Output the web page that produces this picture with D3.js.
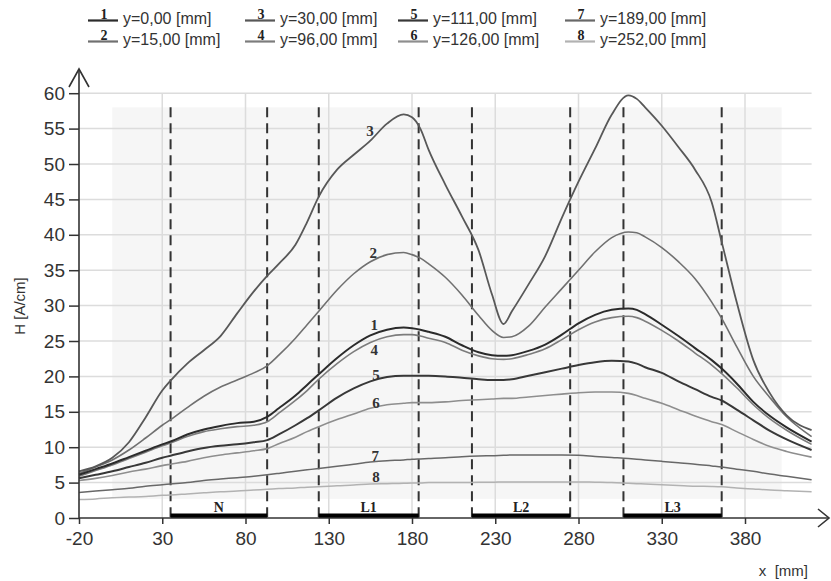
<!DOCTYPE html>
<html>
<head>
<meta charset="utf-8">
<script src="https://cdn.jsdelivr.net/npm/d3@7"></script>
<style>
  html, body { margin: 0; padding: 0; background: #fff; }
  svg { display: block; }
</style>
</head>
<body>
<svg id="chart" width="831" height="581"></svg>
<script>
// ---------------- data ----------------
const xPositions = [-20,-10,0,10,20,30,35,45,55,65,75,85,93,100,110,117,124,135,145,155,165,175,180,185,190,200,210,220,228,235,240,250,260,270,280,290,300,310,315,320,330,340,350,360,366,375,385,395,405,420];

const curve1 = [6.1,6.9,7.7,8.6,9.5,10.4,10.8,11.8,12.5,13.0,13.4,13.6,14.3,15.5,17.3,18.8,20.3,22.6,24.4,25.8,26.6,26.9,26.8,26.6,26.3,25.6,24.4,23.4,23.0,22.9,23.0,23.6,24.5,25.9,27.5,28.7,29.4,29.6,29.4,28.8,27.3,25.7,24.0,22.3,21.1,19.0,16.4,14.4,12.8,10.8];
const curve2 = [6.3,7.2,8.2,9.6,11.3,13.1,13.9,15.6,17.2,18.5,19.5,20.5,21.5,23.0,25.4,27.3,29.2,32.2,34.5,36.2,37.2,37.5,37.2,36.7,35.9,34.0,31.5,28.6,26.5,25.5,25.6,27.1,29.8,32.4,35.0,37.6,39.6,40.4,40.3,39.7,38.2,36.2,33.8,30.5,28.2,24.2,20.0,17.0,14.3,11.5];
const curve3 = [6.6,7.3,8.5,10.7,14.2,18.0,19.4,21.8,23.7,25.7,28.9,32.0,34.2,35.9,38.6,41.8,45.4,49.2,51.3,53.3,55.7,57.0,56.6,55.0,52.0,47.1,42.6,37.8,31.6,27.4,29.2,33.0,37.0,42.4,47.5,52.2,57.0,59.7,59.2,58.0,55.4,52.4,49.2,44.6,39.0,30.5,22.3,17.6,14.5,12.4];
const curve4 = [5.9,6.7,7.5,8.4,9.3,10.2,10.6,11.5,12.2,12.6,12.9,13.1,13.6,14.8,16.6,18.0,19.6,21.8,23.5,24.8,25.6,25.9,25.9,25.7,25.4,24.8,23.7,22.9,22.5,22.4,22.5,23.1,23.9,25.2,26.6,27.7,28.3,28.5,28.3,27.8,26.5,25.0,23.3,21.6,20.4,18.4,16.0,14.0,12.4,10.4];
const curve5 = [5.6,6.1,6.6,7.2,7.8,8.5,8.8,9.4,9.9,10.2,10.4,10.7,11.0,11.8,13.1,14.1,15.2,17.0,18.3,19.3,19.9,20.1,20.1,20.1,20.1,20.0,19.8,19.6,19.5,19.5,19.6,20.1,20.6,21.1,21.6,22.0,22.2,22.1,21.8,21.3,20.5,19.3,18.2,17.1,16.6,15.3,13.8,12.3,11.1,9.6];
const curve6 = [5.3,5.6,6.0,6.5,6.9,7.4,7.6,8.0,8.5,8.9,9.2,9.5,9.8,10.5,11.4,12.2,12.9,13.9,14.7,15.5,16.0,16.2,16.3,16.3,16.3,16.4,16.6,16.7,16.8,16.9,16.9,17.1,17.3,17.5,17.7,17.8,17.8,17.6,17.3,16.9,16.2,15.3,14.4,13.6,13.2,12.2,11.1,10.1,9.4,8.6];
const curve7 = [3.6,3.8,4.0,4.2,4.5,4.7,4.8,5.0,5.3,5.5,5.7,5.9,6.1,6.3,6.6,6.8,7.0,7.3,7.6,7.9,8.1,8.2,8.3,8.35,8.4,8.5,8.65,8.75,8.8,8.85,8.9,8.9,8.9,8.9,8.85,8.7,8.55,8.4,8.3,8.2,8.0,7.8,7.6,7.35,7.2,6.9,6.6,6.2,5.9,5.4];
const curve8 = [2.6,2.7,2.85,2.95,3.05,3.2,3.25,3.4,3.55,3.7,3.8,3.95,4.05,4.15,4.25,4.35,4.4,4.55,4.65,4.8,4.85,4.9,4.95,4.95,5.0,5.0,5.0,5.05,5.05,5.1,5.1,5.1,5.1,5.1,5.1,5.05,5.0,4.9,4.85,4.8,4.7,4.6,4.5,4.45,4.4,4.25,4.1,3.95,3.85,3.7];

const seriesIds = ["1","2","3","4","5","6","7","8"];
const legendLabels = ["y=0,00 [mm]","y=15,00 [mm]","y=30,00 [mm]","y=96,00 [mm]","y=111,00 [mm]","y=126,00 [mm]","y=189,00 [mm]","y=252,00 [mm]"];
const xTicks = [-20,30,80,130,180,230,280,330,380];
const yTicks = [0,5,10,15,20,25,30,35,40,45,50,55,60];
const zoneNames = ["N","L1","L2","L3"];
const zoneStarts = [35,124,216,307];
const zoneEnds = [93,184,275,366];

// ---------------- layout / styles ----------------
const allCurves = [curve1,curve2,curve3,curve4,curve5,curve6,curve7,curve8];
const colors = ["#2b2b2b","#707070","#585858","#7c7c7c","#383838","#8e8e8e","#686868","#b2b2b2"];
const widths = [2,1.6,1.8,1.6,2,1.6,1.5,1.5];
// curve-label anchor (data coords)
const curveLabelAt = [[157.4,27.3],[156.8,37.4],[154.8,54.6],[157.4,23.7],[158.4,20.2],[158.4,16.2],[158,8.7],[158.4,5.8]];

const svg = d3.select("#chart");
const x = d3.scaleLinear().domain([-20,420]).range([79,811.6]);
const y = d3.scaleLinear().domain([0,60]).range([518,93.2]);

// light background field
svg.append("rect")
  .attr("x", x(0)).attr("y", y(58))
  .attr("width", x(402)-x(0)).attr("height", y(2.7)-y(58))
  .attr("fill", "#f6f6f6");

// grid
const grid = svg.append("g");
grid.selectAll("line.h").data(yTicks.filter(d => d > 0)).join("line")
  .attr("x1", x(-20)).attr("x2", x(420))
  .attr("y1", d => y(d)).attr("y2", d => y(d))
  .attr("stroke", "#dcdcdc").attr("stroke-width", 1.5);
grid.selectAll("line.v").data(xTicks.filter(d => d > -20)).join("line")
  .attr("x1", d => x(d)).attr("x2", d => x(d))
  .attr("y1", y(0)).attr("y2", y(60))
  .attr("stroke", "#dcdcdc").attr("stroke-width", 1.5);

// dashed zone borders
const dashX = zoneStarts.concat(zoneEnds);
svg.append("g").selectAll("line").data(dashX).join("line")
  .attr("x1", d => x(d)).attr("x2", d => x(d))
  .attr("y1", y(58)).attr("y2", y(0))
  .attr("stroke", "#333").attr("stroke-width", 2)
  .attr("stroke-dasharray", "10,6");

// curves
const line = d3.line()
  .x((d, i) => x(xPositions[i]))
  .y(d => y(d))
  .curve(d3.curveMonotoneX);
const drawOrder = [7,6,5,3,1,2,4,0];
svg.append("g").selectAll("path").data(drawOrder).join("path")
  .attr("d", k => line(allCurves[k]))
  .attr("fill", "none")
  .attr("stroke", k => colors[k])
  .attr("stroke-width", k => widths[k]);

// curve labels
svg.append("g").selectAll("text").data(seriesIds).join("text")
  .attr("x", (d, i) => x(curveLabelAt[i][0]))
  .attr("y", (d, i) => y(curveLabelAt[i][1]))
  .attr("text-anchor", "middle")
  .attr("dominant-baseline", "central")
  .attr("font-family", "'Liberation Serif','DejaVu Serif',serif")
  .attr("font-weight", "bold")
  .attr("font-size", 15)
  .attr("fill", "#333")
  .text(d => d);

// zone bars
const zones = svg.append("g");
zones.selectAll("rect").data(zoneNames).join("rect")
  .attr("x", (d, i) => x(zoneStarts[i]))
  .attr("y", y(0) - 4.5)
  .attr("width", (d, i) => x(zoneEnds[i]) - x(zoneStarts[i]))
  .attr("height", 4.5)
  .attr("fill", "#000");
zones.selectAll("text").data(zoneNames).join("text")
  .attr("x", (d, i) => (x(zoneStarts[i]) + x(zoneEnds[i])) / 2)
  .attr("y", y(0) - 6)
  .attr("text-anchor", "middle")
  .attr("font-family", "'Liberation Serif','DejaVu Serif',serif")
  .attr("font-weight", "bold")
  .attr("font-size", 14)
  .attr("fill", "#222")
  .text(d => d);

// axes
const axisColor = "#333";
const plainFmt = d => String(d);
const yAxis = d3.axisLeft(y).tickValues(yTicks).tickSize(10).tickPadding(4).tickFormat(plainFmt);
const gy = svg.append("g").attr("transform", `translate(${x(-20)},0)`).call(yAxis);
gy.select(".domain").remove();
gy.selectAll("line").attr("stroke", axisColor).attr("stroke-width", 1.5);
gy.selectAll("text").attr("font-family", "'Liberation Sans',Arial,sans-serif").attr("font-size", 19).attr("fill", "#333");

const xAxis = d3.axisBottom(x).tickValues(xTicks).tickSize(6).tickPadding(8).tickFormat(plainFmt);
const gx = svg.append("g").attr("transform", `translate(0,${y(0)})`).call(xAxis);
gx.select(".domain").remove();
gx.selectAll("line").attr("stroke", axisColor).attr("stroke-width", 1.5);
gx.selectAll("text").attr("font-family", "'Liberation Sans',Arial,sans-serif").attr("font-size", 19).attr("fill", "#333");

// axis lines with open arrowheads
const x0 = x(-20), y0 = y(0);
svg.append("line").attr("x1", x0).attr("y1", y0).attr("x2", x0).attr("y2", 69)
  .attr("stroke", axisColor).attr("stroke-width", 1.6);
svg.append("path").attr("d", `M${x0-10},${87} L${x0},${69} L${x0+10},${87}`)
  .attr("fill", "none").attr("stroke", axisColor).attr("stroke-width", 1.6);
svg.append("line").attr("x1", x0).attr("y1", y0).attr("x2", 829).attr("y2", y0)
  .attr("stroke", axisColor).attr("stroke-width", 1.6);
svg.append("path").attr("d", `M${818},${y0-9} L${829},${y0} L${818},${y0+9}`)
  .attr("fill", "none").attr("stroke", axisColor).attr("stroke-width", 1.6);

// axis titles
svg.append("text")
  .attr("transform", `translate(25,306) rotate(-90)`)
  .attr("text-anchor", "middle")
  .attr("font-family", "'Liberation Sans',Arial,sans-serif")
  .attr("font-size", 15).attr("fill", "#333")
  .text("H [A/cm]");
svg.append("text")
  .attr("x", 808).attr("y", 576)
  .attr("text-anchor", "end")
  .attr("font-family", "'Liberation Sans',Arial,sans-serif")
  .attr("font-size", 15).attr("fill", "#333")
  .style("white-space", "pre")
  .text("x  [mm]");

// legend
const colX = [88, 245, 398, 565];
const rowY = [20.5, 41.5];
const leg = svg.append("g");
seriesIds.forEach((id, i) => {
  const cx = colX[Math.floor(i / 2)];
  const ry = rowY[i % 2];
  leg.append("line").attr("x1", cx).attr("x2", cx + 30).attr("y1", ry).attr("y2", ry)
    .attr("stroke", colors[i]).attr("stroke-width", 2.2);
  leg.append("text").attr("x", cx + 16).attr("y", ry - 2)
    .attr("text-anchor", "middle")
    .attr("font-family", "'Liberation Serif','DejaVu Serif',serif")
    .attr("font-weight", "bold").attr("font-size", 14).attr("fill", "#222")
    .text(id);
  leg.append("text").attr("x", cx + 35).attr("y", ry + 3)
    .attr("font-family", "'Liberation Sans',Arial,sans-serif")
    .attr("font-size", 16).attr("fill", "#333")
    .text(legendLabels[i]);
});
</script>
</body>
</html>
